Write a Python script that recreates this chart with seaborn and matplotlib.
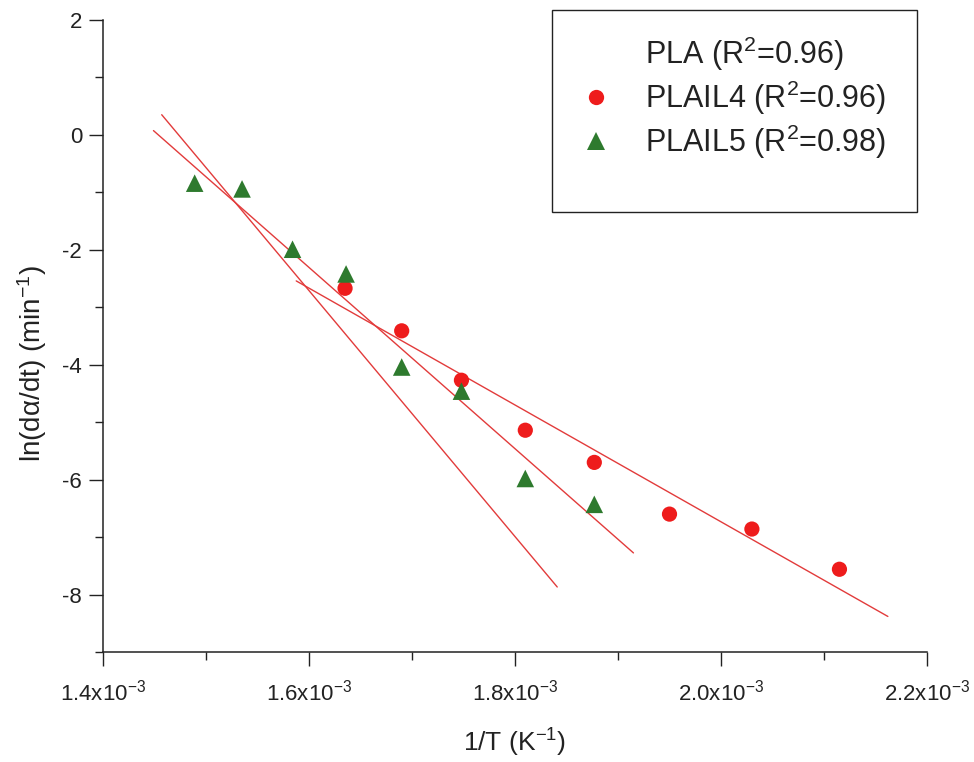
import numpy as np
import pandas as pd
import matplotlib
matplotlib.use("Agg")
import matplotlib.pyplot as plt
from matplotlib.lines import Line2D
from matplotlib.patches import Rectangle
from matplotlib.ticker import MultipleLocator, FixedLocator, FixedFormatter
import seaborn as sns

# ---- data ----
il5_x = [1.489e-3, 1.535e-3, 1.584e-3, 1.636e-3, 1.690e-3, 1.748e-3, 1.810e-3, 1.877e-3]
il5_y = [-0.84, -0.94, -1.99, -2.42, -4.04, -4.46, -5.98, -6.43]

il4_x = [1.635e-3, 1.690e-3, 1.748e-3, 1.810e-3, 1.877e-3, 1.950e-3, 2.030e-3, 2.115e-3]
il4_y = [-2.67, -3.41, -4.27, -5.14, -5.70, -6.60, -6.86, -7.56]

# linear fits  y = a + b*x  over [x_lo, x_hi]
fit_names = ["PLA", "PLAIL5", "PLAIL4"]
fit_a = [31.54, 22.93, 13.60]
fit_b = [-21406.0, -15773.0, -10167.0]
fit_xlo = [1.457e-3, 1.449e-3, 1.5876e-3]
fit_xhi = [1.841e-3, 1.915e-3, 2.162e-3]

legend_labels = [r"PLA (R$^2$=0.96)", r"PLAIL4 (R$^2$=0.96)", r"PLAIL5 (R$^2$=0.98)"]

xtick_vals = [1.4e-3, 1.6e-3, 1.8e-3, 2.0e-3, 2.2e-3]
xtick_labels = [r"1.4x10$^{-3}$", r"1.6x10$^{-3}$", r"1.8x10$^{-3}$", r"2.0x10$^{-3}$", r"2.2x10$^{-3}$"]
ytick_vals = [-8, -6, -4, -2, 0, 2]

# ---- style ----
sns.set_style("ticks")
plt.rcParams["font.family"] = ["Liberation Sans", "DejaVu Sans"]
plt.rcParams["mathtext.fontset"] = "custom"
plt.rcParams["mathtext.rm"] = "Liberation Sans"
plt.rcParams["mathtext.it"] = "Liberation Sans:italic"
plt.rcParams["mathtext.default"] = "regular"
plt.rcParams["axes.unicode_minus"] = False

RED = "#ee1c1c"
GREEN = "#2e7a2e"
LINE = "#e23b3b"
INK = "#222222"

fig = plt.figure(figsize=(9.74, 7.62), dpi=100)
ax = fig.add_axes([103/974, 1-652/762, (927-103)/974, (652-20)/762])

df4 = pd.DataFrame({"x": il4_x, "y": il4_y})
df5 = pd.DataFrame({"x": il5_x, "y": il5_y})

rows = []
for n, a, b, lo, hi in zip(fit_names, fit_a, fit_b, fit_xlo, fit_xhi):
    for xv in (lo, hi):
        rows.append({"fit": n, "x": xv, "y": a + b * xv})
dfl = pd.DataFrame(rows)
for n in fit_names:
    sns.lineplot(data=dfl[dfl.fit == n], x="x", y="y", ax=ax, color=LINE,
                 lw=1.0, legend=False, zorder=2)

sns.scatterplot(data=df4, x="x", y="y", ax=ax, color=RED, marker="o", s=120,
                edgecolor="none", zorder=3, legend=False)
sns.scatterplot(data=df5, x="x", y="y", ax=ax, color=GREEN, marker="^", s=160,
                edgecolor="none", zorder=4, legend=False)

ax.set_xlim(1.4e-3, 2.2e-3)
ax.set_ylim(-9, 2)
ax.xaxis.set_major_locator(FixedLocator(xtick_vals))
ax.xaxis.set_major_formatter(FixedFormatter(xtick_labels))
ax.xaxis.set_minor_locator(MultipleLocator(1e-4))
ax.yaxis.set_major_locator(FixedLocator(ytick_vals))
ax.yaxis.set_minor_locator(MultipleLocator(1))
ax.tick_params(axis="both", which="major", length=10, width=1.0, labelsize=16,
               direction="out", color=INK, labelcolor=INK)
ax.tick_params(axis="both", which="minor", length=6, width=1.0, direction="out", color=INK)
ax.tick_params(axis="x", pad=10)
ax.tick_params(axis="y", pad=5)
for s in ["left", "bottom"]:
    ax.spines[s].set_linewidth(1.1)
    ax.spines[s].set_color(INK)
sns.despine(ax=ax)

ax.set_xlabel(r"1/T (K$^{-1}$)", fontsize=19, labelpad=15, color=INK)
ax.set_ylabel(r"ln(d$\alpha$/dt) (min$^{-1}$)", fontsize=20, color=INK)
ax.yaxis.set_label_coords(-0.066, (652-364)/632)

# legend
handles = [
    Line2D([], [], linestyle="none", marker=None),
    Line2D([], [], linestyle="none", marker="o", color=RED, markersize=11, markeredgewidth=0),
    Line2D([], [], linestyle="none", marker="^", color=GREEN, markersize=12.5, markeredgewidth=0),
]
leg = fig.legend(handles, legend_labels, loc="upper left",
                 bbox_to_anchor=(561/974, 1-19/762), frameon=False, fontsize=22,
                 borderpad=0, handlelength=1.3, handletextpad=0.95, labelspacing=0.19)
for t in leg.get_texts():
    t.set_color(INK)
fig.patches.append(Rectangle((552/974, 1-212/762), (917-552)/974, (212-10)/762,
                             transform=fig.transFigure, fill=False, edgecolor=INK,
                             linewidth=1.0))

fig.savefig("out.png", dpi=100)
